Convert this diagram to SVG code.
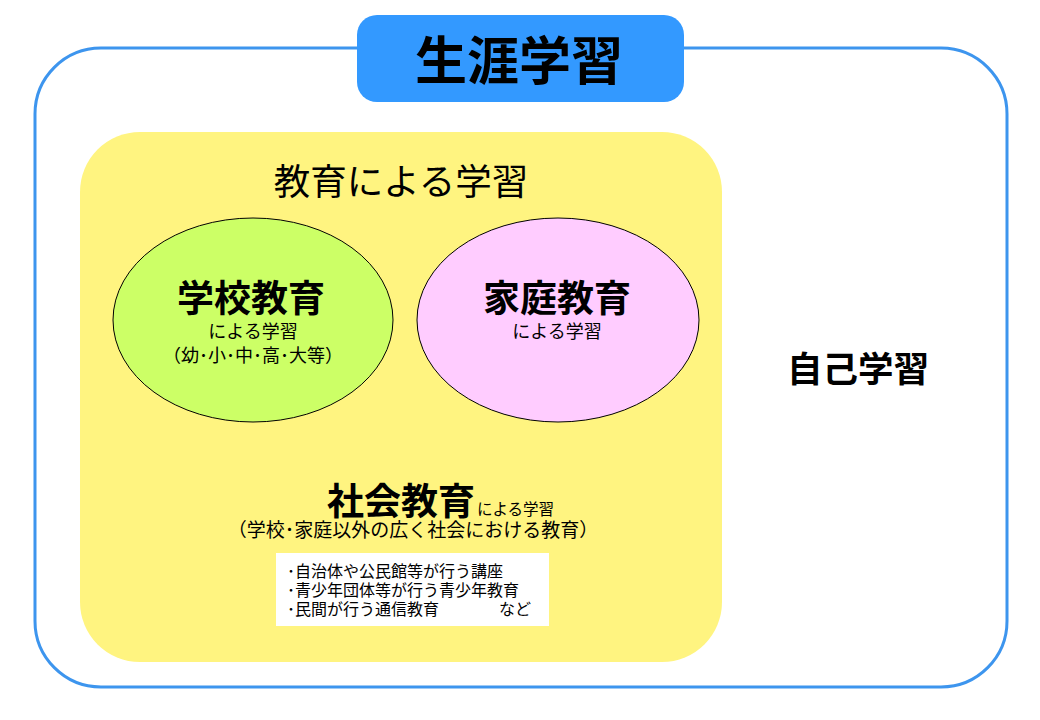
<svg xmlns="http://www.w3.org/2000/svg" width="1040" height="720" viewBox="0 0 1040 720">
<style>
text{font-family:"Noto Sans CJK JP","Noto Sans CJK SC",sans-serif;fill:#000}
.b{font-weight:bold}
.m{text-anchor:middle}
.l{font-size:16px}
</style>
<rect width="1040" height="720" fill="#fff"/>
<g id="outer"><rect x="35" y="48" width="972" height="639" rx="66" fill="#fff" stroke="#3d95ee" stroke-width="3"/></g>
<g id="title"><rect x="357" y="15" width="327" height="87" rx="20" fill="#3399ff"/>
<text x="519" y="80" class="b m" font-size="52">生涯学習</text></g>
<g id="education"><rect x="80" y="132" width="642" height="530" rx="60" fill="#fff480"/>
<text x="401" y="195" class="m" font-size="36.5">教育による学習</text></g>
<g id="school"><ellipse cx="253" cy="320" rx="140" ry="102" fill="#ccff66" stroke="#000" stroke-width="1"/>
<text x="251" y="312" class="b m" font-size="37">学校教育</text>
<text x="253" y="338" class="m" font-size="18">による学習</text>
<text x="253" y="362" class="m" font-size="18">（幼･小･中･高･大等）</text></g>
<g id="home"><ellipse cx="558" cy="320" rx="141" ry="102" fill="#ffccff" stroke="#000" stroke-width="1"/>
<text x="557" y="312" class="b m" font-size="37">家庭教育</text>
<text x="557" y="338" class="m" font-size="18">による学習</text></g>
<g id="self"><text x="858" y="382" class="b m" font-size="35.5">自己学習</text></g>
<g id="social">
<text x="327" y="515" class="b" font-size="37">社会教育<tspan font-size="15.5" font-weight="normal" dx="2">による学習</tspan></text>
<text x="413" y="537" class="m" font-size="19">（学校･家庭以外の広く社会における教育）</text>
<rect x="276" y="553" width="273" height="73" fill="#fff"/>
<text x="287" y="577" class="l">･自治体や公民館等が行う講座</text>
<text x="287" y="596" class="l">･青少年団体等が行う青少年教育</text>
<text x="287" y="615" class="l">･民間が行う通信教育<tspan x="499">など</tspan></text>
</g>
<g id="connectors"/>
</svg>
